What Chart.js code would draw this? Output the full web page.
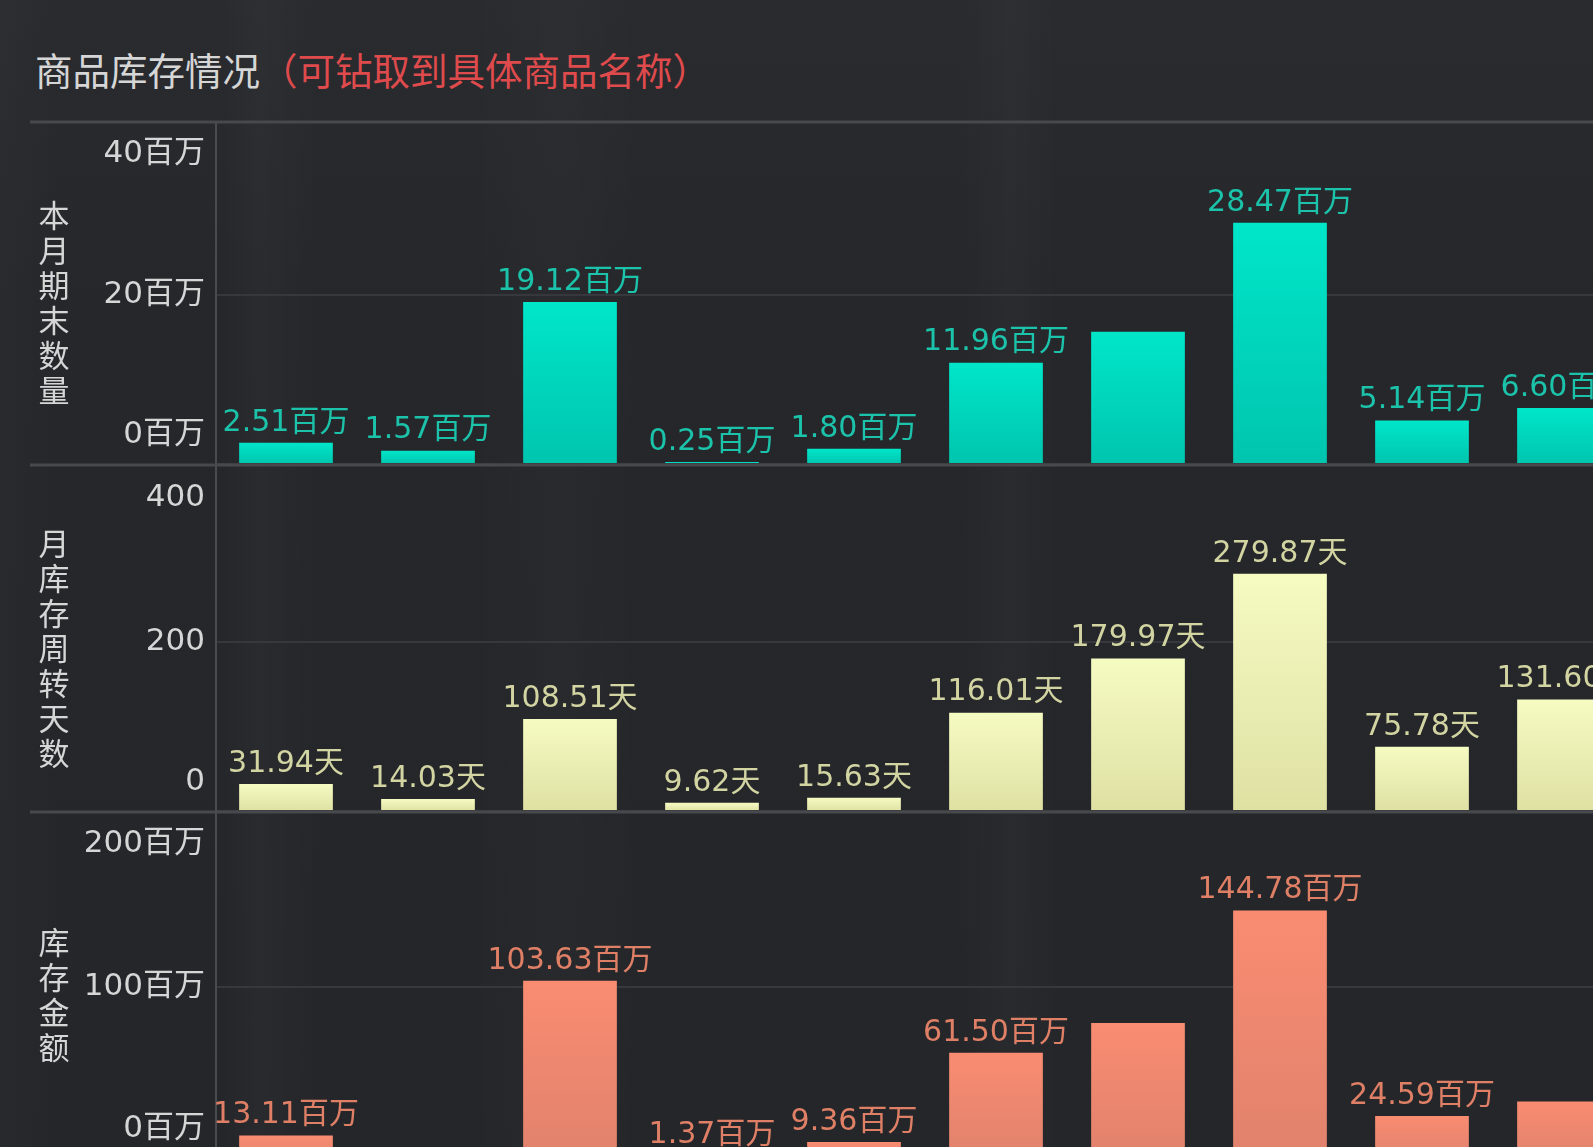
<!DOCTYPE html>
<html>
<head>
<meta charset="utf-8">
<script src="https://cdn.jsdelivr.net/npm/chart.js@4.4.1/dist/chart.umd.min.js"></script>
<style>
  html, body { margin:0; padding:0; width:1593px; height:1147px; overflow:hidden; background:#26272b; }
  #bg { position:absolute; left:0; top:0; width:1593px; height:1147px;
        background:
          linear-gradient(90deg, rgba(255,255,255,0.015) 0px, rgba(255,255,255,0) 60px),
          linear-gradient(90deg, rgba(255,255,255,0) 220px, rgba(255,255,255,0.018) 260px, rgba(255,255,255,0) 320px),
          linear-gradient(90deg, rgba(255,255,255,0) 470px, rgba(255,255,255,0.015) 560px, rgba(255,255,255,0) 640px),
          linear-gradient(90deg, rgba(255,255,255,0) 960px, rgba(255,255,255,0.02) 1010px, rgba(255,255,255,0) 1060px),
          linear-gradient(180deg, #2a2b2f 0px, #26272b 300px, #25262a 1147px); }
  #title { position:absolute; left:35px; top:49px; height:40px; line-height:40px; font-size:37.5px;
           font-family:"Noto Sans CJK SC", sans-serif; color:#d6d6d6; white-space:nowrap; }
  #title span { color:#df4a4c; }
  .panel { position:absolute; left:0; width:1635px; }
</style>
</head>
<body>
<div id="bg"></div>
<div id="title">商品库存情况<span>（可钻取到具体商品名称）</span></div>
<div class="panel" id="p1"><canvas id="c1"></canvas></div>
<div class="panel" id="p2"><canvas id="c2"></canvas></div>
<div class="panel" id="p3"><canvas id="c3"></canvas></div>
<script>
// ---- data ----
const categories = ['商品1', '商品2', '商品3', '商品4', '商品5', '商品6', '商品7', '商品8', '商品9', '商品10'];
const endQtyMillion = [2.51, 1.57, 19.12, 0.25, 1.80, 11.96, 15.60, 28.47, 5.14, 6.60];
const turnoverDays = [31.94, 14.03, 108.51, 9.62, 15.63, 116.01, 179.97, 279.87, 75.78, 131.60];
const stockAmountMillion = [13.11, 6.50, 103.63, 1.37, 9.36, 61.50, 79.00, 144.78, 24.59, 33.00];
const axisTitles = ['本月期末数量', '月库存周转天数', '库存金额'];
const qtyTicks = [0, 20, 40];
const daysTicks = [0, 200, 400];
const amountTicks = [0, 100, 200];
const qtyUnit = '百万';
const daysUnit = '天';
const amountUnit = '百万';

// ---- layout / style ----
const PAD = 6;
const AXIS_X = 215;
const LABEL_FONT = '30px "DejaVu Sans", "Noto Sans CJK SC", sans-serif';
const TICK_FONT = '31px "DejaVu Sans", "Noto Sans CJK SC", sans-serif';
const TITLE_FONT = '31px "Noto Sans CJK SC", sans-serif';

const panels = [
  { canvas: 'c1', box: 'p1', values: endQtyMillion, ticks: qtyTicks, tickUnit: qtyUnit, labelUnit: qtyUnit,
    title: axisTitles[0], frameTop: 122, top: 125, bottom: 464, first: true,
    barTop: '#00e6c9', barBottom: '#00c5ae', labelColor: '#1cc3ab' },
  { canvas: 'c2', box: 'p2', values: turnoverDays, ticks: daysTicks, tickUnit: '', labelUnit: daysUnit,
    title: axisTitles[1], frameTop: 466, top: 472, bottom: 811, first: false,
    barTop: '#f6fbc2', barBottom: '#dfe1a3', labelColor: '#d2d4a2' },
  { canvas: 'c3', box: 'p3', values: stockAmountMillion, ticks: amountTicks, tickUnit: amountUnit, labelUnit: amountUnit,
    title: axisTitles[2], frameTop: 812, top: 816, bottom: 1158, first: false,
    barTop: '#f98c71', barBottom: '#e1826d', labelColor: '#df8066' }
];

const panelPlugin = {
  id: 'panelDecor',
  afterDatasetsDraw(chart, args, opts) {
    const p = opts.panel;
    const ctx = chart.ctx;
    const area = chart.chartArea;
    const y = chart.scales.y;
    const frameY = area.top - (p.top - p.frameTop);
    ctx.save();
    // separators
    ctx.strokeStyle = '#48494d';
    ctx.lineWidth = 3;
    ctx.beginPath();
    ctx.moveTo(30, area.bottom + 1); ctx.lineTo(chart.width, area.bottom + 1);
    if (p.first) { ctx.moveTo(30, frameY); ctx.lineTo(chart.width, frameY); }
    ctx.stroke();
    // vertical axis line
    ctx.strokeStyle = '#4a4b50';
    ctx.lineWidth = 2;
    ctx.beginPath();
    ctx.moveTo(AXIS_X + 1, p.first ? frameY : 0);
    ctx.lineTo(AXIS_X + 1, area.bottom);
    ctx.stroke();
    // tick labels
    ctx.font = TICK_FONT;
    ctx.fillStyle = '#d6d6d6';
    ctx.textAlign = 'right';
    ctx.textBaseline = 'middle';
    y.ticks.forEach(t => {
      let py = y.getPixelForValue(t.value);
      if (t.value === y.max) py = frameY + 32;
      else if (t.value === y.min) py -= 29;
      ctx.fillText(t.value + p.tickUnit, 205, py);
    });
    // axis title (vertical stacked)
    ctx.font = TITLE_FONT;
    ctx.textAlign = 'center';
    const chars = Array.from(p.title);
    const pitch = 35;
    const mid = (frameY + area.bottom) / 2 + 9.5;
    const start = mid - chars.length * pitch / 2 + pitch / 2;
    chars.forEach((c, i) => ctx.fillText(c, 54, start + i * pitch));
    // value labels with overlap hiding
    ctx.font = LABEL_FONT;
    ctx.fillStyle = p.labelColor;
    const meta = chart.getDatasetMeta(0);
    const placed = [];
    meta.data.forEach((bar, i) => {
      const txt = p.values[i].toFixed(2) + p.labelUnit;
      const w = ctx.measureText(txt).width;
      const cx = bar.x, cy = bar.y - 20;
      const r = { x1: cx - w / 2 - 5, x2: cx + w / 2 + 5, y1: cy - 18, y2: cy + 18 };
      const hit = placed.some(q => r.x1 < q.x2 && r.x2 > q.x1 && r.y1 < q.y2 && r.y2 > q.y1);
      if (hit) return;
      placed.push(r);
      ctx.fillText(txt, cx, cy);
    });
    ctx.restore();
  }
};

panels.forEach(p => {
  const box = document.getElementById(p.box);
  box.style.top = (p.top - PAD) + 'px';
  box.style.height = (p.bottom - p.top + 2 * PAD) + 'px';
  const maxTick = p.ticks[p.ticks.length - 1];
  new Chart(document.getElementById(p.canvas), {
    type: 'bar',
    data: {
      labels: categories,
      datasets: [{
        data: p.values,
        borderWidth: 0,
        barPercentage: 0.66,
        categoryPercentage: 1,
        backgroundColor: (c) => {
          const chart = c.chart;
          if (!chart.chartArea || c.parsed === undefined) return p.barTop;
          const ys = chart.scales.y;
          const top = ys.getPixelForValue(c.parsed.y);
          const bot = ys.getPixelForValue(0);
          if (!isFinite(top) || Math.abs(bot - top) < 1) return p.barTop;
          const g = chart.ctx.createLinearGradient(0, top, 0, bot);
          g.addColorStop(0, p.barTop);
          g.addColorStop(1, p.barBottom);
          return g;
        }
      }]
    },
    options: {
      responsive: true,
      maintainAspectRatio: false,
      animation: false,
      events: [],
      layout: { padding: { top: PAD, bottom: PAD, left: 0, right: 0 } },
      plugins: { legend: { display: false }, tooltip: { enabled: false }, panelDecor: { panel: p } },
      scales: {
        x: { display: false, offset: true },
        y: {
          min: p.ticks[0], max: maxTick,
          afterBuildTicks: (s) => { s.ticks = p.ticks.map(v => ({ value: v })); },
          ticks: { display: false },
          grid: {
            color: (c) => (c.tick && c.tick.value === maxTick) ? 'rgba(0,0,0,0)' : '#37383d',
            lineWidth: 2, drawTicks: false
          },
          border: { display: false },
          afterFit: (s) => { s.width = AXIS_X; }
        }
      }
    },
    plugins: [panelPlugin]
  });
});
</script>
</body>
</html>
